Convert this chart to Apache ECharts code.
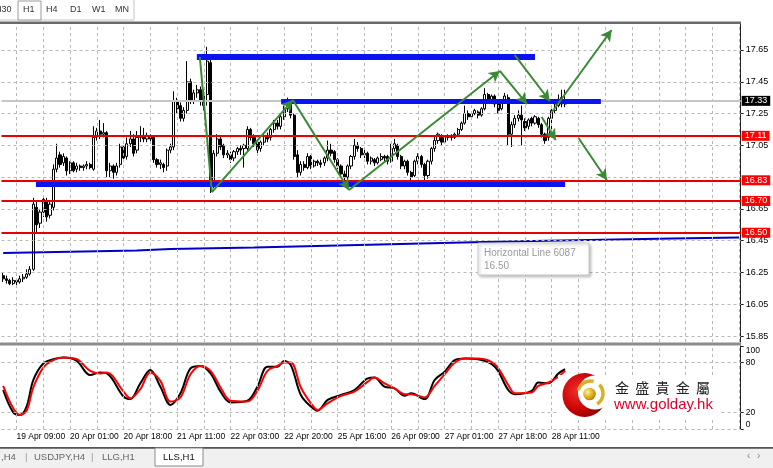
<!DOCTYPE html>
<html><head><meta charset="utf-8">
<script src="https://cdn.jsdelivr.net/npm/echarts@6/dist/echarts.min.js"></script>
<style>html,body{margin:0;padding:0;background:#fff;}#c{width:773px;height:468px;}</style>
</head><body><div id="c"></div>
<script>
// ---------- DATA ----------
// H1 candles, one row per bar: [open, close, low, high]
const ohlc = [
[16.23,16.21,16.19,16.25],[16.21,16.20,16.18,16.23],[16.20,16.18,16.17,16.21],[16.18,16.20,16.17,16.22],[16.20,16.19,16.17,16.21],
[16.19,16.21,16.18,16.23],[16.21,16.22,16.19,16.24],[16.22,16.24,16.21,16.27],[16.24,16.27,16.23,16.29],[16.27,16.68,16.26,16.72],
[16.66,16.55,16.50,16.70],[16.56,16.63,16.53,16.65],[16.63,16.71,16.60,16.73],[16.70,16.60,16.57,16.72],[16.61,16.68,16.59,16.70],
[16.66,16.90,16.64,16.93],[16.90,16.97,16.88,17.06],[16.99,16.93,16.91,17.01],[16.94,16.98,16.92,17.00],[16.97,16.89,16.86,16.98],
[16.89,16.94,16.87,16.95],[16.94,16.89,16.88,16.95],[16.90,16.92,16.88,16.94],[16.92,16.91,16.89,16.93],[16.91,16.92,16.89,16.93],
[16.92,16.93,16.90,16.95],[16.93,16.91,16.90,16.94],[16.90,17.10,16.89,17.17],[17.10,17.14,17.08,17.16],[17.14,17.12,17.09,17.21],
[17.12,17.13,17.10,17.19],[17.13,16.89,16.85,17.14],[16.89,16.92,16.85,16.94],[16.92,16.88,16.84,16.93],[16.88,16.92,16.86,16.94],
[16.93,17.04,16.91,17.06],[17.04,16.97,16.95,17.05],[16.98,17.06,16.96,17.10],[17.06,17.09,17.04,17.14],[17.09,17.00,16.98,17.12],
[17.02,17.10,17.00,17.14],[17.10,17.11,17.07,17.17],[17.11,17.09,17.07,17.16],[17.09,17.11,17.07,17.13],[17.11,17.09,17.07,17.12],
[17.10,16.96,16.94,17.11],[16.96,16.93,16.91,16.97],[16.93,16.94,16.90,16.96],[16.93,16.91,16.88,16.94],[16.92,17.02,16.89,17.03],
[17.02,17.04,17.00,17.06],[17.04,17.33,17.02,17.39],[17.33,17.28,17.25,17.35],[17.30,17.22,17.20,17.32],[17.22,17.27,17.20,17.29],
[17.27,17.45,17.25,17.58],[17.45,17.33,17.31,17.47],[17.33,17.38,17.31,17.40],[17.38,17.40,17.35,17.43],[17.40,17.33,17.30,17.42],
[17.30,17.38,17.27,17.40],[17.37,17.58,17.30,17.67],[17.57,16.80,16.75,17.60],[16.80,17.00,16.78,17.02],[17.00,17.09,16.98,17.12],
[17.09,17.04,17.02,17.11],[17.05,16.99,16.97,17.06],[16.99,17.00,16.97,17.02],[16.99,16.96,16.94,17.01],[16.97,17.01,16.95,17.02],
[17.01,17.03,16.99,17.04],[17.03,17.02,16.99,17.05],[17.03,17.05,16.91,17.06],[17.03,17.15,17.01,17.17],[17.15,17.10,17.08,17.16],
[17.10,17.06,17.04,17.12],[17.07,17.02,17.00,17.08],[17.03,17.07,17.01,17.08],[17.07,17.11,17.05,17.12],[17.11,17.09,17.07,17.13],
[17.10,17.15,17.08,17.16],[17.15,17.19,17.13,17.21],[17.19,17.17,17.15,17.21],[17.17,17.23,17.15,17.24],[17.23,17.28,17.21,17.30],
[17.28,17.33,17.26,17.35],[17.33,17.24,17.22,17.34],[17.24,16.98,16.96,17.25],[16.99,16.88,16.85,17.02],[16.88,16.93,16.86,16.95],
[16.93,16.91,16.89,16.95],[16.91,16.98,16.90,17.00],[16.98,16.92,16.90,16.99],[16.92,16.95,16.91,16.96],[16.95,16.94,16.92,16.96],
[16.94,16.93,16.91,16.96],[16.94,16.97,16.92,16.98],[16.97,17.02,16.95,17.08],[17.02,17.00,16.98,17.06],[17.01,16.96,16.94,17.02],
[16.96,16.92,16.90,16.97],[16.92,16.87,16.85,16.93],[16.87,16.85,16.83,16.89],[16.85,16.92,16.83,16.93],[16.92,16.98,16.90,16.99],
[16.98,17.05,16.96,17.09],[17.05,17.03,17.01,17.07],[17.03,16.99,16.97,17.04],[16.99,17.00,16.97,17.02],[17.00,16.95,16.93,17.01],
[16.95,16.97,16.93,16.98],[16.96,16.94,16.92,16.97],[16.94,16.97,16.93,16.98],[16.96,16.98,16.95,17.00],[16.98,16.97,16.95,16.99],
[16.98,16.95,16.93,16.99],[16.95,17.03,16.94,17.06],[17.03,17.06,17.01,17.09],[17.05,16.98,16.96,17.06],[16.98,16.92,16.90,16.99],
[16.92,16.95,16.90,16.96],[16.95,16.88,16.86,16.96],[16.88,16.85,16.83,16.89],[16.86,16.95,16.85,16.96],[16.95,16.98,16.93,17.00],
[16.98,16.93,16.91,16.99],[16.93,16.86,16.83,16.94],[16.86,16.95,16.84,16.96],[16.95,17.03,16.93,17.04],[17.03,17.08,17.01,17.11],
[17.08,17.12,17.06,17.13],[17.11,17.07,17.05,17.12],[17.07,17.10,17.06,17.11],[17.10,17.11,17.08,17.12],[17.11,17.10,17.08,17.12],
[17.10,17.12,17.09,17.13],[17.12,17.15,17.11,17.16],[17.15,17.19,17.14,17.20],[17.19,17.25,17.18,17.30],[17.25,17.23,17.21,17.27],
[17.23,17.25,17.22,17.26],[17.25,17.27,17.24,17.28],[17.26,17.24,17.22,17.27],[17.24,17.28,17.23,17.29],[17.28,17.37,17.27,17.41],
[17.37,17.33,17.31,17.38],[17.33,17.36,17.32,17.37],[17.36,17.31,17.29,17.37],[17.31,17.27,17.25,17.32],[17.28,17.33,17.27,17.34],
[17.33,17.36,17.32,17.38],[17.35,17.12,17.05,17.37],[17.12,17.18,17.04,17.20],[17.18,17.22,17.16,17.24],[17.22,17.24,17.20,17.27],
[17.24,17.21,17.05,17.30],[17.20,17.16,17.14,17.22],[17.17,17.21,17.15,17.22],[17.22,17.19,17.17,17.23],[17.19,17.23,17.18,17.24],
[17.22,17.18,17.16,17.23],[17.18,17.12,17.10,17.19],[17.12,17.08,17.06,17.13],[17.10,17.22,17.08,17.23],[17.22,17.27,17.12,17.28],
[17.27,17.31,17.25,17.32],[17.30,17.34,17.29,17.37],[17.35,17.31,17.29,17.40],[17.31,17.33,17.29,17.40]
];
const barCount = 221;                       // bar slots on the time axis (incl. empty right margin)
const timeLabels = ['19 Apr 09:00','20 Apr 01:00','20 Apr 18:00','21 Apr 11:00','22 Apr 03:00','22 Apr 20:00','25 Apr 16:00','26 Apr 09:00','27 Apr 01:00','27 Apr 18:00','28 Apr 11:00'];
const timeLabelBars = [4,20,36,52,68,84,100,116,132,148,164];
const priceGrid = [15.85,16.05,16.25,16.45,16.65,16.85,17.05,17.25,17.45,17.65];
const priceLabels = [15.85,16.05,16.25,16.45,16.65,17.05,17.25,17.45,17.65];
const bidPrice = 17.33;
const levelPrices = [17.11,16.83,16.70,16.50];
// moving average (blue) sampled points
const maBars = [0,40,50,75,100,125,150,175,200,220];
const maValues = [16.372,16.388,16.398,16.407,16.420,16.432,16.445,16.454,16.464,16.470];
// thick blue zones: [fromBar, toBar, price]
const blueZones = [[57.9,159.0,17.606],[83.1,178.7,17.326],[9.8,168.0,16.811]];
// green trend lines: [fromBar, fromPrice, toBar, toPrice]
const trendLines = [
 [58.8,17.606,62.4,16.756],[62.4,16.756,86.6,17.335],[86.6,17.335,103.4,16.769],[103.4,16.769,148.5,17.518],
 [148.5,17.518,156.6,17.310],[152.9,17.619,163.4,17.329],[161.0,17.228,165.2,17.084],[164.1,17.260,181.9,17.776],
 [172.0,17.096,180.5,16.832]
];
const trendHasArrow = [false,true,true,true,true,true,true,true,true];
// stochastic oscillator samples
const stochBars = [0,3,5,7,9,12,15,18,22,26,29,31,36,38,41,44,47,50,53,56,59,62,65,68,73,76,79,82,84,86,89,92,94,97,101,105,109,111,114,117,120,122,126,129,132,135,138,142,147,151,153,158,160,163,166,168];
const stochK = [47,20,17,27,59,79,84,86,82,65,68,67,39,36,55,71,51,29,43,73,76,67,45,32,34,51,75,75,82,77,41,27,22,35,41,47,61,62,51,49,40,43,36,59,69,83,85,84,75,47,42,46,56,55,67,72];
const stochD = [52,25,17,22,50,74,83,86,84,70,67,68,45,37,48,68,58,33,38,66,76,70,50,34,33,46,70,76,80,80,50,31,23,31,40,45,57,62,55,49,42,42,38,52,66,80,85,85,78,53,43,44,52,56,63,70];
const stochLevels = [0,20,80,100];

// ---------- LAYOUT / STYLE ----------
const FONT = '"Liberation Sans Narrow","Liberation Sans",Arial,sans-serif';
const SANS = '"Liberation Sans",Arial,sans-serif';
const L = 1.5, W = 739.2;
const mainTop = 24, mainH = 318;
const pxPerUnit = 158.9, refPrice = 17.65, refY = 50;
const yMax = refPrice + (refY - mainTop) / pxPerUnit;
const yMin = refPrice - (mainTop + mainH - refY) / pxPerUnit;
const categories = []; for (let i = 0; i < barCount; i++) categories.push(String(i));
const gridBars = []; for (let b = 4; b < barCount; b += 8) gridBars.push(b);
const dash = {type:[3,3], color:'#b8b8b8', width:1};
const blueWidths = [6,5,7];

const chart = echarts.init(document.getElementById('c'), null, {renderer:'canvas', width:773, height:468});

const markBase = {silent:true, symbol:['none','none'], animation:false};

const option = {
  animation:false,
  backgroundColor:'#ffffff',
  textStyle:{fontFamily:FONT},
  grid:[
    {left:L, top:mainTop, width:W, height:mainH},
    {left:L, top:346, width:W, height:83}
  ],
  xAxis:[
    {type:'category', gridIndex:0, data:categories, boundaryGap:true, show:false},
    {type:'category', gridIndex:1, data:categories, boundaryGap:true,
      axisLine:{show:false}, axisTick:{show:false}, splitLine:{show:false},
      axisLabel:{interval:(i)=>timeLabelBars.indexOf(i) >= 0,
        formatter:(v,i)=>timeLabels[timeLabelBars.indexOf(i)] || '',
        align:'left', margin:3, fontSize:8.5, color:'#000', fontFamily:FONT}},
    {type:'value', gridIndex:0, min:-0.5, max:barCount-0.5, show:false},
    {type:'value', gridIndex:1, min:-0.5, max:barCount-0.5, show:false}
  ],
  yAxis:[
    {type:'value', gridIndex:0, position:'right', min:yMin, max:yMax, scale:true,
      splitLine:{show:false},
      axisLine:{show:true, onZero:false, lineStyle:{color:'#222', width:1}},
      axisTick:{show:true, customValues:priceLabels, length:3, lineStyle:{color:'#222'}},
      axisLabel:{customValues:priceLabels, formatter:(v)=>Number(v).toFixed(2), margin:5, fontSize:9, color:'#000', fontFamily:FONT}},
    {type:'value', gridIndex:1, position:'right', min:0, max:100,
      splitLine:{show:false},
      axisLine:{show:true, onZero:false, lineStyle:{color:'#222', width:1}},
      axisTick:{show:true, customValues:stochLevels, length:3, lineStyle:{color:'#222'}},
      axisLabel:{customValues:stochLevels, margin:5, fontSize:8.5, color:'#000', fontFamily:FONT,
        verticalAlignMinLabel:'bottom', verticalAlignMaxLabel:'top'}}
  ],
  series:[
    // grid lines main
    {type:'line', xAxisIndex:2, yAxisIndex:0, data:[], z:1, silent:true,
      markLine:Object.assign({}, markBase, {label:{show:false}, lineStyle:dash,
        data:[...priceGrid.map(p=>({yAxis:p})), ...gridBars.map(b=>({xAxis:b}))]})},
    // grid lines stochastic
    {type:'line', xAxisIndex:3, yAxisIndex:1, data:[], z:1, silent:true,
      markLine:Object.assign({}, markBase, {label:{show:false}, lineStyle:dash,
        data:[{yAxis:20},{yAxis:80},{yAxis:0}, ...gridBars.map(b=>({xAxis:b}))]})},
    // bid line
    {type:'line', xAxisIndex:2, yAxisIndex:0, data:[], z:2, silent:true,
      markLine:Object.assign({}, markBase, {lineStyle:{color:'#c6c6c6', width:2, type:'solid'},
        label:{show:true, position:'end', distance:1, formatter:bidPrice.toFixed(2), backgroundColor:'#000', color:'#fff',
          padding:[1,3,0,3], fontSize:9, fontFamily:FONT},
        data:[{yAxis:bidPrice}]})},
    // candles
    {type:'candlestick', xAxisIndex:0, yAxisIndex:0, data:ohlc, barWidth:2.6, z:3, silent:true,
      itemStyle:{color:'#ffffff', color0:'#000000', borderColor:'#000000', borderColor0:'#000000', borderWidth:1}},
    // blue zones
    {type:'line', xAxisIndex:2, yAxisIndex:0, data:[], z:5, silent:true,
      markLine:Object.assign({}, markBase, {label:{show:false},
        data:blueZones.map((z,i)=>[
          {coord:[z[0], z[2]], lineStyle:{color:'#0a14f0', width:blueWidths[i], type:'solid', cap:'butt'}},
          {coord:[z[1], z[2]], lineStyle:{color:'#0a14f0', width:blueWidths[i], type:'solid', cap:'butt'}}
        ])})},
    // red levels
    {type:'line', xAxisIndex:2, yAxisIndex:0, data:[], z:6, silent:true,
      markLine:Object.assign({}, markBase, {lineStyle:{color:'#e80000', width:2, type:'solid'},
        label:{show:true, position:'end', distance:1, formatter:(p)=>Number(p.value).toFixed(2), backgroundColor:'#ff0000', color:'#fff',
          padding:[1,3,0,3], fontSize:9, fontFamily:FONT},
        data:levelPrices.map(p=>({yAxis:p}))})},
    // moving average
    {type:'line', xAxisIndex:2, yAxisIndex:0, data:maBars.map((b,i)=>[b, maValues[i]]), z:4, silent:true,
      showSymbol:false, lineStyle:{color:'#0000c8', width:2}},
    // green trend arrows
    {type:'line', xAxisIndex:2, yAxisIndex:0, data:[], z:7, silent:true,
      markLine:{silent:true, animation:false, label:{show:false}, symbolSize:[9,11],
        lineStyle:{color:'#3a8a34', width:2, type:'solid'},
        data:trendLines.map((t,i)=>[
          {coord:[t[0], t[1]], symbol:'none'},
          {coord:[t[2], t[3]], symbol: trendHasArrow[i] ? 'arrow' : 'none'}
        ])}},
    // stochastic
    {type:'line', xAxisIndex:3, yAxisIndex:1, data:stochBars.map((b,i)=>[b, stochK[i]]), z:3, silent:true,
      showSymbol:false, smooth:0.35, lineStyle:{color:'#000', width:2}},
    {type:'line', xAxisIndex:3, yAxisIndex:1, data:stochBars.map((b,i)=>[b, stochD[i]]), z:4, silent:true,
      showSymbol:false, smooth:0.35, lineStyle:{color:'#ff0000', width:2}}
  ],
  graphic:[
    // top toolbar
    {type:'rect', z:50, shape:{x:-1, y:-1, width:135, height:21}, style:{fill:'#fff', stroke:'#c4c4c4', lineWidth:1}},
    {type:'rect', z:51, shape:{x:18, y:1, width:23, height:19}, style:{fill:'#fff', stroke:'#9a9a9a', lineWidth:1}},
    {type:'text', z:52, x:-6, y:10, style:{text:'M30', fill:'#333', font:'9px '+SANS, verticalAlign:'middle'}},
    {type:'text', z:52, x:23, y:10, style:{text:'H1', fill:'#333', font:'9px '+SANS, verticalAlign:'middle'}},
    {type:'text', z:52, x:46, y:10, style:{text:'H4', fill:'#333', font:'9px '+SANS, verticalAlign:'middle'}},
    {type:'text', z:52, x:70, y:10, style:{text:'D1', fill:'#333', font:'9px '+SANS, verticalAlign:'middle'}},
    {type:'text', z:52, x:92, y:10, style:{text:'W1', fill:'#333', font:'9px '+SANS, verticalAlign:'middle'}},
    {type:'text', z:52, x:115, y:10, style:{text:'MN', fill:'#333', font:'9px '+SANS, verticalAlign:'middle'}},
    {type:'rect', z:50, shape:{x:0, y:21.5, width:741, height:2.5}, style:{fill:'#6a6a6a'}},
    // separator between panels
    {type:'rect', z:50, shape:{x:0, y:342.5, width:741, height:3}, style:{fill:'#8c8c8c'}},
    // bottom tabs
    {type:'rect', z:50, shape:{x:0, y:447, width:773, height:21}, style:{fill:'#f0f0f0'}},
    {type:'rect', z:51, shape:{x:0, y:447, width:773, height:1.8}, style:{fill:'#555'}},
    {type:'rect', z:52, shape:{x:155, y:448, width:48, height:18}, style:{fill:'#fff', stroke:'#8a8a8a', lineWidth:1}},
    {type:'text', z:53, x:1, y:457, style:{text:',H4', fill:'#666', font:'9.5px '+SANS, verticalAlign:'middle'}},
    {type:'text', z:53, x:25, y:457, style:{text:'|', fill:'#999', font:'9.5px '+SANS, verticalAlign:'middle'}},
    {type:'text', z:53, x:34, y:457, style:{text:'USDJPY,H4', fill:'#666', font:'9.5px '+SANS, verticalAlign:'middle'}},
    {type:'text', z:53, x:91, y:457, style:{text:'|', fill:'#999', font:'9.5px '+SANS, verticalAlign:'middle'}},
    {type:'text', z:53, x:102, y:457, style:{text:'LLG,H1', fill:'#666', font:'9.5px '+SANS, verticalAlign:'middle'}},
    {type:'text', z:53, x:163, y:457, style:{text:'LLS,H1', fill:'#111', font:'9.5px '+SANS, verticalAlign:'middle'}},
    {type:'text', z:53, x:747, y:456, style:{text:'‹', fill:'#888', font:'10px '+SANS, verticalAlign:'middle'}},
    {type:'text', z:53, x:757, y:456, style:{text:'›', fill:'#888', font:'10px '+SANS, verticalAlign:'middle'}},
    // object tooltip box
    {type:'rect', z:60, shape:{x:478, y:243, width:111, height:32}, style:{fill:'#fff', stroke:'#c8c8c8', lineWidth:1,
      shadowBlur:3, shadowColor:'rgba(0,0,0,0.25)', shadowOffsetX:1.5, shadowOffsetY:1.5}},
    {type:'text', z:61, x:484, y:253, style:{text:'Horizontal Line 6087', fill:'#9a9a9a', font:'10px '+SANS, verticalAlign:'middle'}},
    {type:'text', z:61, x:484, y:266, style:{text:'16.50', fill:'#9a9a9a', font:'10px '+SANS, verticalAlign:'middle'}},
    // logo
    {type:'rect', z:70, shape:{x:558, y:375, width:162, height:45}, style:{fill:'#fff'}},
    {type:'circle', z:71, shape:{cx:584.5, cy:395, r:22}, style:{fill:new echarts.graphic.RadialGradient(0.35,0.4,0.75,[{offset:0,color:'#f03030'},{offset:0.6,color:'#c80000'},{offset:1,color:'#7a0000'}])}},
    {type:'circle', z:72, shape:{cx:595, cy:392.5, r:17}, style:{fill:'#fff'}},
    {type:'arc', z:73, shape:{cx:590.5, cy:393.5, r:12.5, startAngle:Math.PI*1.08, endAngle:Math.PI*1.58}, style:{stroke:'#d9ae2a', lineWidth:3.5, fill:'none'}},
    {type:'arc', z:73, shape:{cx:590.5, cy:393.5, r:12.5, startAngle:-Math.PI*0.25, endAngle:Math.PI*0.32}, style:{stroke:'#d9ae2a', lineWidth:3.5, fill:'none'}},
    {type:'circle', z:74, shape:{cx:589.5, cy:394, r:6.3}, style:{fill:new echarts.graphic.RadialGradient(0.35,0.35,0.8,[{offset:0,color:'#fff2a0'},{offset:0.5,color:'#e0b020'},{offset:1,color:'#a07000'}])}},
    {type:'text', z:75, x:615, y:388, style:{text:'金  盛  貴  金  屬', fill:'#222', font:'14px "Noto Sans CJK TC","Noto Sans CJK SC",sans-serif', verticalAlign:'middle'}},
    {type:'text', z:75, x:614, y:405, style:{text:'www.golday.hk', fill:'#e4002b', font:'15px '+SANS, verticalAlign:'middle'}}
  ]
};
chart.setOption(option);
</script>
</body></html>
